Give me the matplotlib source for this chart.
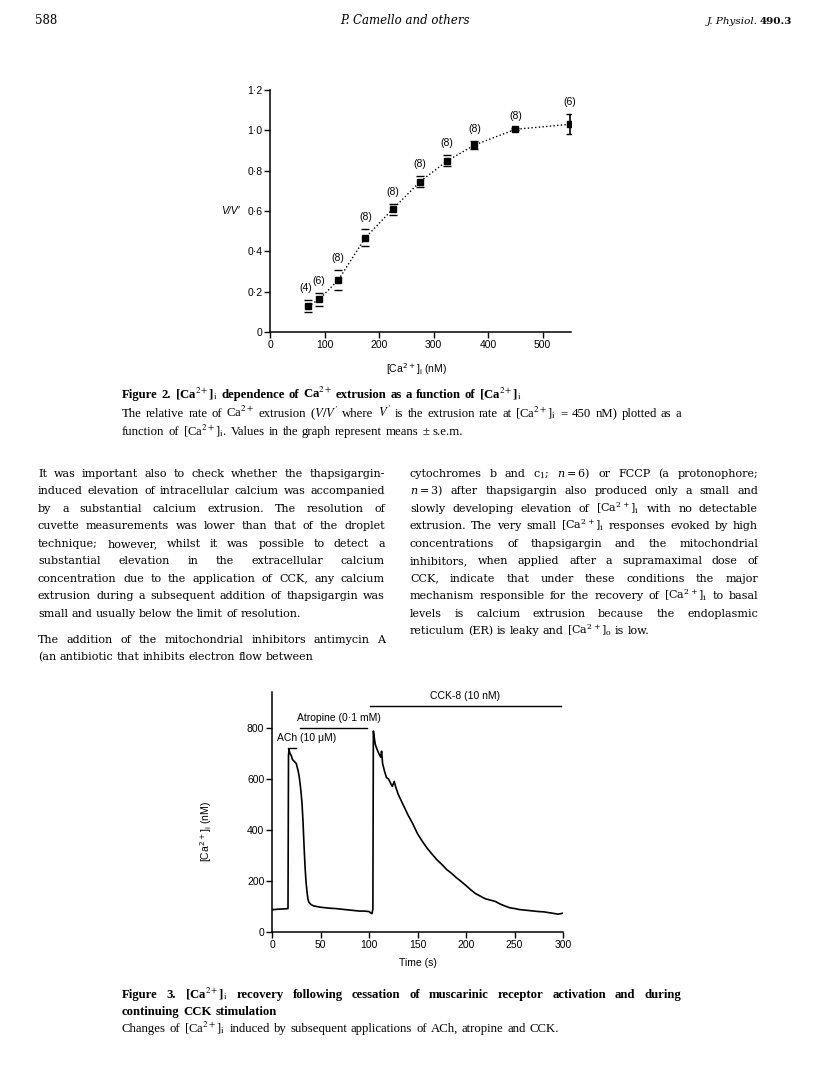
import matplotlib
matplotlib.use('Agg')
import matplotlib.pyplot as plt

W, H = 816, 1071
SERIF = 'DejaVu Serif'
CAPFONT = 'Liberation Serif'
SANS = 'Liberation Sans'

# Figure 2: relative extrusion rate vs [Ca2+]i
ca_conc = [70, 90, 125, 175, 225, 275, 325, 375, 450, 550]
rel_rate = [0.127, 0.162, 0.257, 0.468, 0.609, 0.745, 0.849, 0.927, 1.005, 1.03]
rel_sem = [0.03, 0.032, 0.048, 0.042, 0.027, 0.028, 0.027, 0.02, 0.005, 0.049]
n_cells = [4, 6, 8, 8, 8, 8, 8, 8, 8, 6]
fig2_yticks = [0, 0.2, 0.4, 0.6, 0.8, 1.0, 1.2]
fig2_yticklabels = ['0', '0·2', '0·4', '0·6', '0·8', '1·0', '1·2']
fig2_xticks = [0, 100, 200, 300, 400, 500]

# Figure 3: [Ca2+]i trace
time_s = [0, 5, 10, 15, 16.5, 17, 17.5, 18.5, 20, 21, 23, 25, 26, 27, 28,
          29, 30, 31, 32, 33, 34, 35, 36, 37, 38, 40, 43, 46, 50, 55,
          60, 65, 70, 75, 80, 85, 90, 95, 100, 102, 103, 104, 104.5, 105.5, 106.5,
          108, 110, 112, 113, 114, 116, 118, 120, 122, 124, 126, 127, 130, 135, 140,
          145, 150, 155, 160, 165, 170, 175, 180, 185, 190, 195, 200, 205, 210, 215,
          220, 225, 230, 235, 240, 245, 250, 255, 260, 265, 270, 275, 280, 285, 290,
          295, 298, 300]
ca_nm = [87, 89, 90, 91, 92, 690, 715, 700, 690, 676, 668, 660, 645, 630, 610,
         580, 545, 500, 430, 340, 260, 200, 160, 130, 117, 108, 102, 100, 97, 95,
         93, 92, 90, 88, 86, 84, 82, 82, 80, 74, 72, 90, 787, 760, 735,
         718, 700, 685, 708, 660, 630, 605, 600, 585, 570, 590, 575, 540, 500, 460,
         425, 385, 355, 328, 305, 283, 265, 245, 230, 213, 198, 182, 165, 150, 140,
         130, 125, 120, 110, 102, 95, 92, 88, 86, 84, 82, 80, 79, 76, 73,
         70, 72, 74]
ach_period = (16, 25)
atropine_period = (29, 98)
cck_period = (101, 298)
fig3_xticks = [0, 50, 100, 150, 200, 250, 300]
fig3_yticks = [0, 200, 400, 600, 800]

CA = '[Ca$^{2+}$]$_{\\mathrm{i}}$'
left_col = [
    ["It was important also to check whether the thapsigargin-",
     "induced elevation of intracellular calcium was accompanied",
     "by a substantial calcium extrusion. The resolution of",
     "cuvette measurements was lower than that of the droplet",
     "technique; however, whilst it was possible to detect a",
     "substantial elevation in the extracellular calcium",
     "concentration due to the application of CCK, any calcium",
     "extrusion during a subsequent addition of thapsigargin was",
     "small and usually below the limit of resolution."],
    ["The addition of the mitochondrial inhibitors antimycin A",
     "(an antibiotic that inhibits electron flow between"],
]
right_col = [
    ["cytochromes b and c$_1$; $n=6$) or FCCP (a protonophore;",
     "$n=3$) after thapsigargin also produced only a small and",
     "slowly developing elevation of " + CA + " with no detectable",
     "extrusion. The very small " + CA + " responses evoked by high",
     "concentrations of thapsigargin and the mitochondrial",
     "inhibitors, when applied after a supramaximal dose of",
     "CCK, indicate that under these conditions the major",
     "mechanism responsible for the recovery of " + CA + " to basal",
     "levels is calcium extrusion because the endoplasmic",
     "reticulum (ER) is leaky and [Ca$^{2+}$]$_{\\mathrm{o}}$ is low."],
]
cap2_title = "Figure 2. " + CA + " dependence of Ca$^{2+}$ extrusion as a function of " + CA
cap2_body = ["The relative rate of Ca$^{2+}$ extrusion ($V/V'$ where $V'$ is the extrusion rate at "
             + CA + " = 450 nM) plotted as a",
             "function of " + CA + ". Values in the graph represent means ± s.e.m."]
cap3_title = ["Figure 3. " + CA + " recovery following cessation of muscarinic receptor activation and during",
              "continuing CCK stimulation"]
cap3_body = ["Changes of " + CA + " induced by subsequent applications of ACh, atropine and CCK."]

fig = plt.figure(figsize=(W / 100, H / 100), dpi=100)
renderer = fig.canvas.get_renderer()


def put_line(x0, x1, y, s, justify=True, size=8, family=SERIF, mathfam='dejavuserif', **kw):
    words = s.split(' ')
    texts = [fig.text(0, 0, w, fontsize=size, va='baseline', family=family,
                      math_fontfamily=mathfam, **kw) for w in words]
    widths = [t.get_window_extent(renderer).width for t in texts]
    if justify and len(words) > 1:
        gap = (x1 - x0 - sum(widths)) / (len(words) - 1)
    else:
        gap = size * 100 / 72 * 0.3
    x = x0
    for t, w in zip(texts, widths):
        t.set_position((x / W, 1 - y / H))
        x += w + gap


def put_paragraphs(paras, x0, x1, y, step=17.45, gap=8.7, **kw):
    for para in paras:
        for i, line in enumerate(para):
            put_line(x0, x1, y, line, justify=(i < len(para) - 1), **kw)
            y += step
        y += gap


def put_caption(x0, x1, y, s, justify, bold=False):
    put_line(x0, x1, y, s, justify=justify, size=9.2, family=CAPFONT, mathfam='stix',
             weight='bold' if bold else 'normal')


# header
fig.text(35 / W, 1 - 24 / H, '588', fontsize=8.5, family=SERIF, va='baseline')
fig.text(405 / W, 1 - 24 / H, 'P. Camello and others', fontsize=8.5, family=SERIF,
         style='italic', ha='center', va='baseline')
fig.text(758 / W, 1 - 24 / H, 'J. Physiol.', fontsize=7.5, family=SERIF,
         style='italic', ha='right', va='baseline')
fig.text(760 / W, 1 - 24 / H, '490.3', fontsize=7.5, family=SERIF,
         weight='bold', ha='left', va='baseline')

# ---------- Figure 2 ----------
ax2 = fig.add_axes([270 / W, 1 - 332 / H, 301 / W, 242 / H])
ax2.plot(ca_conc, rel_rate, ':', color='black', lw=1)
ax2.errorbar(ca_conc[:-1], rel_rate[:-1], yerr=rel_sem[:-1], fmt='s', color='black',
             ms=4.5, elinewidth=0, capsize=3, capthick=1)
ax2.errorbar(ca_conc[-1:], rel_rate[-1:], yerr=rel_sem[-1:], fmt='s', color='black',
             ms=4.5, elinewidth=1.2, capsize=3, capthick=1)
for x, y, e, n in zip(ca_conc, rel_rate, rel_sem, n_cells):
    ax2.text(x - (5 if n == 4 else 0), y + e + 0.035, f'({n})', ha='center', va='bottom',
             fontsize=7.5, family=SANS)
ax2.set_xlim(0, 552)
ax2.set_ylim(0, 1.2)
ax2.set_xticks(fig2_xticks)
ax2.set_yticks(fig2_yticks)
ax2.set_yticklabels(fig2_yticklabels)
ax2.set_xlabel('[Ca$^{2+}$]$_{\\mathrm{i}}$ (nM)', fontsize=7.5, family=SANS)
ax2.xaxis.set_label_coords(0.485, -0.12)
ax2.set_ylabel("V/V′", fontsize=7.5, family=SANS, style='italic', rotation=0, va='center')
ax2.yaxis.set_label_coords(-0.13, 0.5)

# ---------- Figure 3 ----------
ax3 = fig.add_axes([272 / W, 1 - 932 / H, 291 / W, 240 / H])
ax3.plot(time_s, ca_nm, color='black', lw=1.2)
bars = [(ach_period, 720, 'ACh (10 μM)', 'left'),
        (atropine_period, 800, 'Atropine (0·1 mM)', 'center'),
        (cck_period, 886, 'CCK-8 (10 nM)', 'center')]
for (t0, t1), yb, lab, ha in bars:
    ax3.plot([t0, t1], [yb, yb], color='black', lw=1, clip_on=False)
    if ha == 'left':
        ax3.text(5, yb + 20, lab, fontsize=7.5, family=SANS, ha='left', va='bottom')
    else:
        ax3.text((t0 + t1) / 2 + (5 if lab.startswith('A') else 0), yb + 20, lab,
                 fontsize=7.5, family=SANS, ha='center', va='bottom')
ax3.set_xlim(0, 300)
ax3.set_ylim(0, 940)
ax3.set_xticks(fig3_xticks)
ax3.set_yticks(fig3_yticks)
ax3.set_xlabel('Time (s)', fontsize=7.5, family=SANS)
ax3.xaxis.set_label_coords(0.5, -0.11)
ax3.set_ylabel('[Ca$^{2+}$]$_{\\mathrm{i}}$ (nM)', fontsize=7.5, family=SANS)
ax3.yaxis.set_label_coords(-0.2, 0.42)

for ax in (ax2, ax3):
    for side in ('top', 'right'):
        ax.spines[side].set_visible(False)
    for side in ('left', 'bottom'):
        ax.spines[side].set_linewidth(1.1)
    ax.tick_params(direction='out', length=4, width=1, labelsize=7.5, pad=1.5)
    for lab in ax.get_xticklabels() + ax.get_yticklabels():
        lab.set_family(SANS)
    ax.xaxis.label.set_math_fontfamily('dejavusans')
    ax.yaxis.label.set_math_fontfamily('dejavusans')

# captions
put_caption(122, 681, 398, cap2_title, False, bold=True)
put_caption(122, 681, 417, cap2_body[0], True)
put_caption(122, 681, 435, cap2_body[1], False)

# body text
put_paragraphs(left_col, 38, 385, 477)
put_paragraphs(right_col, 410, 758, 477)

put_caption(122, 681, 998, cap3_title[0], True, bold=True)
put_caption(122, 681, 1015, cap3_title[1], False, bold=True)
put_caption(122, 681, 1032, cap3_body[0], False)

fig.savefig('out.png', dpi=100)
